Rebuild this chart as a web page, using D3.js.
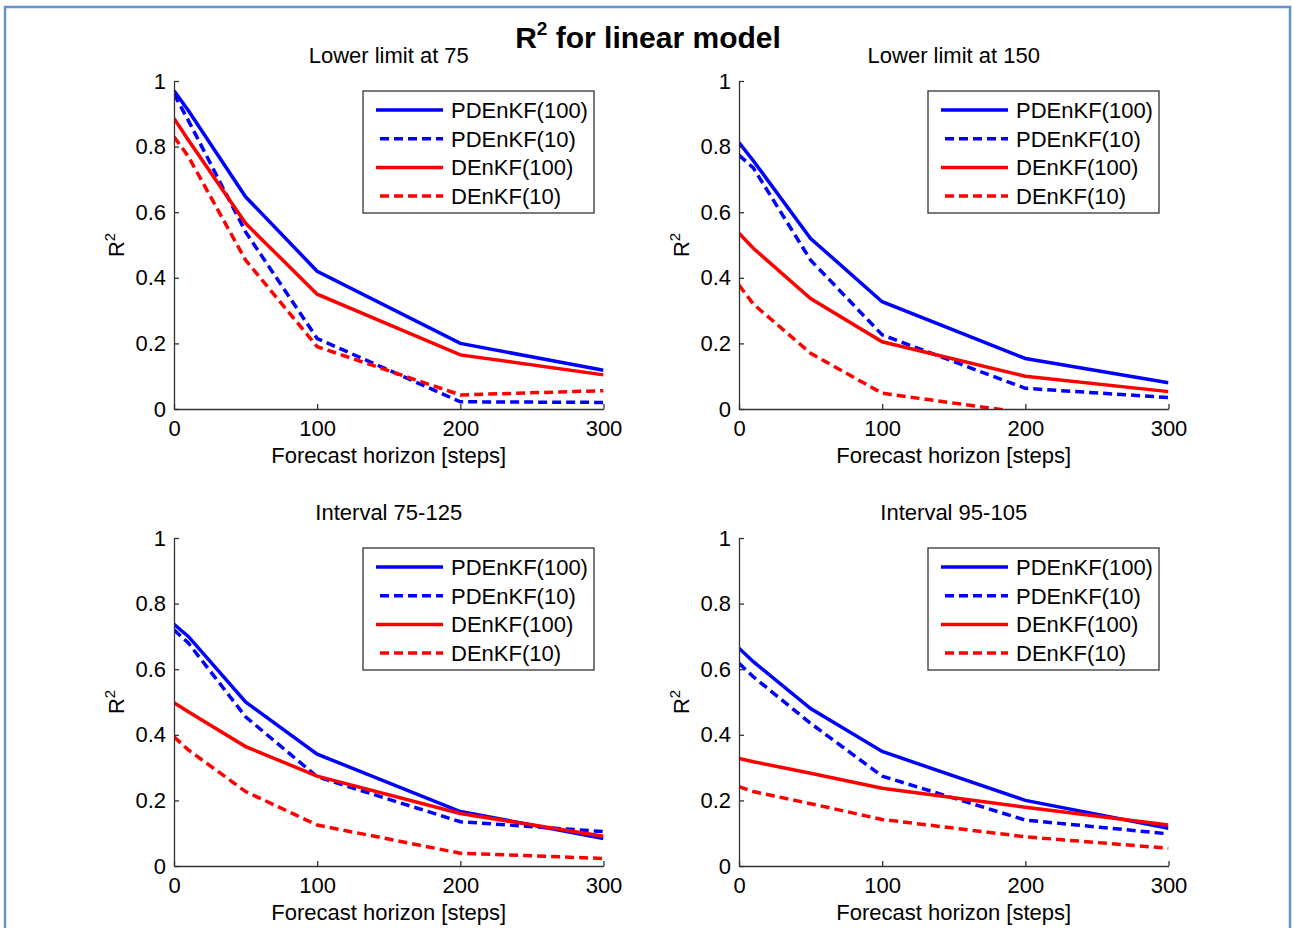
<!DOCTYPE html>
<html>
<head>
<meta charset="utf-8">
<script src="https://cdn.jsdelivr.net/npm/d3@7"></script>
<style>
  body { margin: 0; background: #fff; }
  text { font-family: "Liberation Sans", Arial, sans-serif; fill: #000; }
</style>
</head>
<body>
<svg id="drawing_region"></svg>
<script>
// forecast horizon (steps) where R^2 was evaluated
const steps = [0, 10, 50, 100, 200, 300];
const seriesNames = ['PDEnKF(100)', 'PDEnKF(10)', 'DEnKF(100)', 'DEnKF(10)'];
const seriesColors = ['#0000ff', '#0000ff', '#ff0000', '#ff0000'];
const seriesDashed = [false, true, false, true];

const panelTitles = ['Lower limit at 75', 'Lower limit at 150', 'Interval 75-125', 'Interval 95-105'];

// values in the order of seriesNames
const lower75 = [
    [0.97, 0.91, 0.647, 0.42, 0.20, 0.118],
    [0.96, 0.88, 0.54, 0.215, 0.022, 0.02],
    [0.886, 0.82, 0.566, 0.35, 0.165, 0.104],
    [0.83, 0.77, 0.454, 0.19, 0.043, 0.056]
];
const lower150 = [
    [0.812, 0.757, 0.52, 0.327, 0.154, 0.08],
    [0.774, 0.735, 0.454, 0.226, 0.063, 0.035],
    [0.536, 0.49, 0.337, 0.205, 0.10, 0.053],
    [0.378, 0.32, 0.17, 0.048, -0.012, -0.05]
];
const interval75 = [
    [0.737, 0.70, 0.50, 0.341, 0.166, 0.084],
    [0.72, 0.68, 0.455, 0.272, 0.135, 0.105],
    [0.498, 0.47, 0.364, 0.274, 0.16, 0.091],
    [0.394, 0.354, 0.227, 0.125, 0.039, 0.023]
];
const interval95 = [
    [0.664, 0.623, 0.48, 0.349, 0.20, 0.115],
    [0.618, 0.577, 0.435, 0.274, 0.14, 0.098],
    [0.328, 0.318, 0.283, 0.237, 0.179, 0.125],
    [0.242, 0.227, 0.19, 0.142, 0.089, 0.054]
];
const panelData = [lower75, lower150, interval75, interval95];

const xTicks = [0, 100, 200, 300];
const yTicks = [0, 0.2, 0.4, 0.6, 0.8, 1];

const W = 1293, H = 928;
const svg = d3.select('#drawing_region')
    .attr('width', W)
    .attr('height', H);

// outer frame of the figure window
svg.append('rect')
    .attr('x', 5).attr('y', 7)
    .attr('width', 1285).attr('height', 930)
    .attr('fill', 'none')
    .attr('stroke', '#6593d0')
    .attr('stroke-width', 2.5);

// main title
const mainTitle = svg.append('text')
    .attr('x', 648).attr('y', 48)
    .attr('text-anchor', 'middle')
    .attr('font-size', '30px')
    .attr('font-weight', 'bold');
mainTitle.append('tspan').text('R');
mainTitle.append('tspan').attr('dy', -13).attr('font-size', '19px').text('2');
mainTitle.append('tspan').attr('dy', 13).text(' for linear model');

const panelPos = [
    {left: 174, top: 81},
    {left: 739, top: 81},
    {left: 174, top: 538},
    {left: 739, top: 538}
];
const pw = 429.5, ph = 328;

panelPos.forEach((p, i) => {
    const g = svg.append('g')
        .attr('transform', `translate(${p.left}, ${p.top})`);

    const xscale = d3.scaleLinear().domain([0, 300]).range([0, pw]);
    const yscale = d3.scaleLinear().domain([0, 1]).range([ph, 0]);

    g.append('clipPath').attr('id', 'clip' + i)
        .append('rect').attr('x', 0).attr('y', 0).attr('width', pw).attr('height', ph);

    const line = d3.line()
        .x((d, j) => xscale(steps[j]))
        .y(d => yscale(d));

    const lines = g.append('g').attr('clip-path', `url(#clip${i})`);
    panelData[i].forEach((vals, s) => {
        lines.append('path')
            .datum(vals)
            .attr('d', line)
            .attr('fill', 'none')
            .attr('stroke', seriesColors[s])
            .attr('stroke-width', 3.5)
            .attr('stroke-dasharray', seriesDashed[s] ? '9,5' : null);
    });

    const xaxis = d3.axisBottom(xscale)
        .tickValues(xTicks)
        .tickSizeInner(-5)
        .tickSizeOuter(0)
        .tickPadding(11)
        .tickFormat(d => d);
    const yaxis = d3.axisLeft(yscale)
        .tickValues(yTicks)
        .tickSizeInner(-5)
        .tickSizeOuter(0)
        .tickPadding(8)
        .tickFormat(d => d);

    const xg = g.append('g')
        .attr('transform', `translate(0, ${ph})`)
        .call(xaxis);
    const yg = g.append('g').call(yaxis);

    [xg, yg].forEach(a => {
        a.selectAll('path, line').attr('stroke', '#333').attr('stroke-width', 1.3);
        a.selectAll('text')
            .attr('font-size', '22px')
            .attr('font-family', '"Liberation Sans", Arial, sans-serif')
            .attr('fill', '#000');
    });

    // subplot title
    g.append('text')
        .attr('x', pw / 2).attr('y', -18)
        .attr('text-anchor', 'middle')
        .attr('font-size', '22px')
        .text(panelTitles[i]);

    // x label
    g.append('text')
        .attr('x', pw / 2).attr('y', ph + 54)
        .attr('text-anchor', 'middle')
        .attr('font-size', '22px')
        .text('Forecast horizon [steps]');

    // y label
    const yl = g.append('text')
        .attr('transform', `translate(-50, ${ph / 2}) rotate(-90)`)
        .attr('text-anchor', 'middle')
        .attr('font-size', '22px');
    yl.append('tspan').text('R');
    yl.append('tspan').attr('dy', -9).attr('font-size', '15px').text('2');

    // legend
    const lg = g.append('g').attr('transform', 'translate(189, 10)');
    lg.append('rect')
        .attr('x', 0).attr('y', 0)
        .attr('width', 231).attr('height', 122)
        .attr('fill', '#fff')
        .attr('stroke', '#333')
        .attr('stroke-width', 1.3);
    seriesNames.forEach((name, s) => {
        const yy = 19 + s * 28.7;
        lg.append('line')
            .attr('x1', seriesDashed[s] ? 17 : 13).attr('x2', 80)
            .attr('y1', yy).attr('y2', yy)
            .attr('stroke', seriesColors[s])
            .attr('stroke-width', 3.5)
            .attr('stroke-dasharray', seriesDashed[s] ? '9,5' : null);
        lg.append('text')
            .attr('x', 88).attr('y', yy)
            .attr('dy', '0.36em')
            .attr('font-size', '22px')
            .text(name);
    });
});
</script>
</body>
</html>
